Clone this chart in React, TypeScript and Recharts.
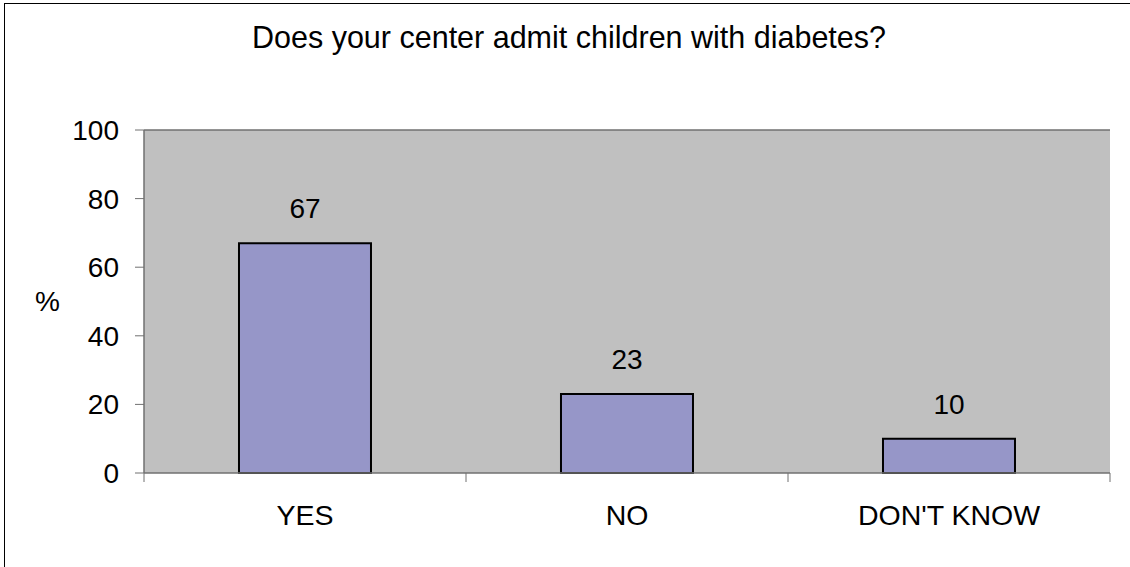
import React from 'react';
import {
  BarChart,
  Bar,
  XAxis,
  YAxis,
  CartesianGrid,
  ReferenceLine,
  LabelList,
} from 'recharts';

const CATEGORIES = ['YES', 'NO', "DON'T KNOW"];
const PERCENTAGES = [67, 23, 10];
const Y_TICKS = [0, 20, 40, 60, 80, 100];
const TITLE = 'Does your center admit children with diabetes?';

const data = CATEGORIES.map((name, i) => ({ name, value: PERCENTAGES[i] }));

const WIDTH = 1130;
const HEIGHT = 567;
const Y_AXIS_W = 144;
const MARGIN = { top: 130, right: 20, left: 0, bottom: 0 };
const X_AXIS_H = 94;
const FONT = '"Liberation Sans", Arial, sans-serif';
const AXIS_COLOR = '#707070';

// band width of the category axis, used to put tick marks between categories
const BAND = (WIDTH - MARGIN.left - MARGIN.right - Y_AXIS_W) / CATEGORIES.length;

function CategoryTick(props: any) {
  const { x, y, payload, index } = props;
  const left = x - BAND / 2;
  const right = x + BAND / 2;
  const axisY = y - 32;
  return (
    <g>
      <line x1={left} x2={left} y1={axisY} y2={axisY + 9} stroke={AXIS_COLOR} />
      {index === CATEGORIES.length - 1 && (
        <line x1={right} x2={right} y1={axisY} y2={axisY + 9} stroke={AXIS_COLOR} />
      )}
      <text
        x={x}
        y={y}
        dy="0.71em"
        textAnchor="middle"
        fill="#000"
        fontSize={28.5}
        fontFamily={FONT}
      >
        {payload.value}
      </text>
    </g>
  );
}

export default function App() {
  return (
    <div
      style={{
        position: 'absolute',
        left: 0,
        top: 0,
        width: WIDTH,
        height: HEIGHT,
        overflow: 'hidden',
        background: '#fff',
        fontFamily: FONT,
      }}
    >
      <div
        style={{
          position: 'absolute',
          left: 4,
          top: 3,
          width: WIDTH + 100,
          height: HEIGHT + 100,
          border: '1px solid #000',
        }}
      />
      <div
        style={{
          position: 'absolute',
          left: 4,
          top: 22,
          width: WIDTH,
          textAlign: 'center',
          fontSize: 30.5,
          lineHeight: '30px',
          color: '#000',
          whiteSpace: 'nowrap',
        }}
      >
        {TITLE}
      </div>
      <div style={{ position: 'absolute', left: 0, top: 0 }}>
        <BarChart
          width={WIDTH}
          height={HEIGHT}
          data={data}
          margin={MARGIN}
          barCategoryGap="29.5%"
        >
          <CartesianGrid
            fill="#C0C0C0"
            fillOpacity={1}
            horizontal={false}
            vertical={false}
          />
          <XAxis
            dataKey="name"
            height={X_AXIS_H}
            tickLine={false}
            tickSize={9}
            tickMargin={23}
            axisLine={{ stroke: AXIS_COLOR, strokeWidth: 1.5 }}
            tick={<CategoryTick />}
            interval={0}
          />
          <YAxis
            domain={[0, 100]}
            ticks={Y_TICKS}
            width={Y_AXIS_W}
            tickSize={9}
            tickMargin={16}
            tickLine={{ stroke: AXIS_COLOR }}
            axisLine={{ stroke: AXIS_COLOR, strokeWidth: 1.5 }}
            tick={{ fill: '#000', fontSize: 28, fontFamily: FONT }}
            label={{
              value: '%',
              position: 'insideLeft',
              offset: 35,
              fill: '#000',
              fontSize: 28,
              fontFamily: FONT,
            }}
          />
          <YAxis
            yAxisId="right"
            orientation="right"
            domain={[0, 100]}
            width={0}
            tick={false}
            tickLine={false}
            axisLine={{ stroke: AXIS_COLOR, strokeWidth: 1.5 }}
          />
          <ReferenceLine y={100} stroke={AXIS_COLOR} strokeWidth={1.5} />
          <Bar
            dataKey="value"
            fill="#9696C8"
            stroke="#000"
            strokeWidth={2}
            isAnimationActive={false}
          >
            <LabelList
              dataKey="value"
              position="top"
              offset={25}
              fill="#000"
              fontSize={28}
              fontFamily={FONT}
            />
          </Bar>
        </BarChart>
      </div>
    </div>
  );
}
